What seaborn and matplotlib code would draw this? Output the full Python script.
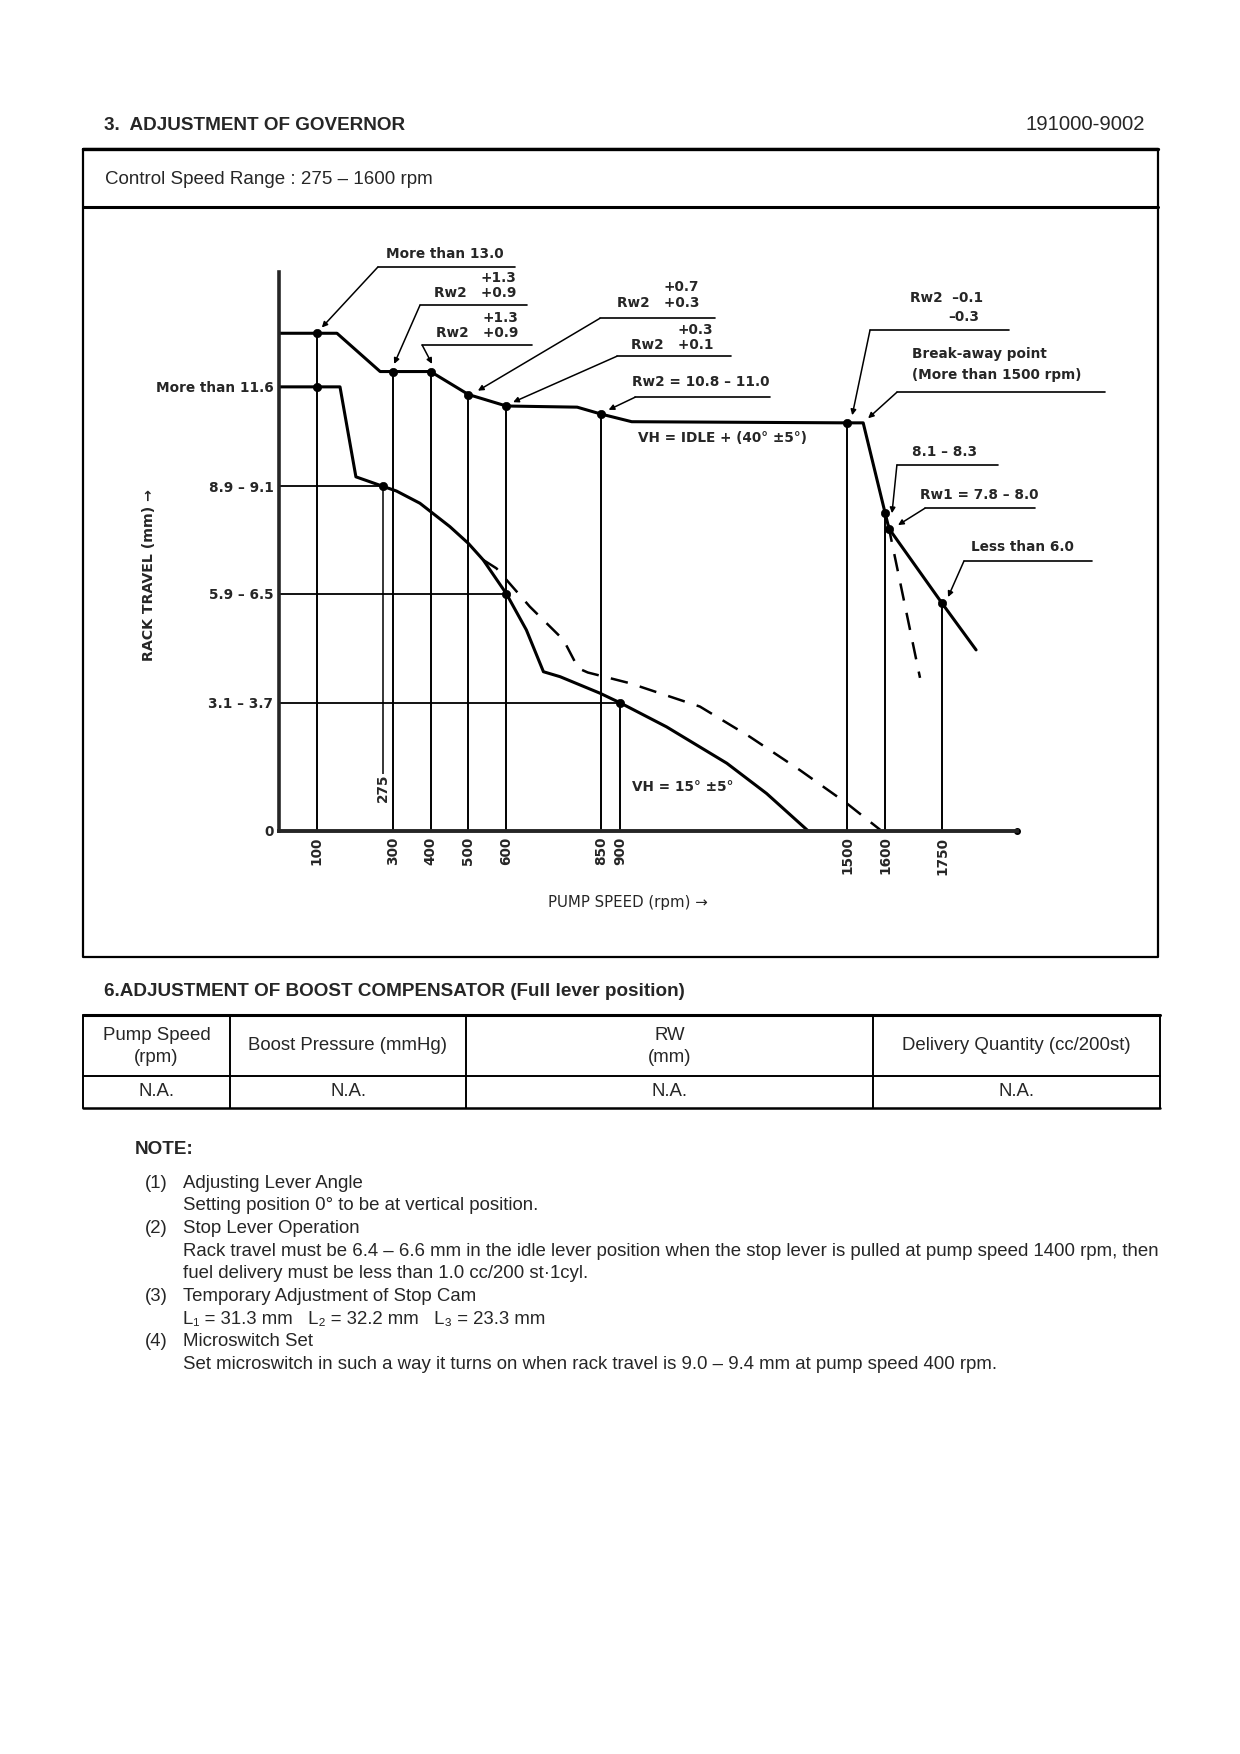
import matplotlib
matplotlib.use("Agg")
import matplotlib.pyplot as plt
import seaborn as sns

# ---- governor curve data (pump speed rpm, rack travel mm) ----
full_rpm = [0, 100, 153, 267, 300, 400, 500, 600, 787, 850, 931, 1500, 1542, 1600, 1610, 1750, 1840]
full_rack = [13.0, 13.0, 13.0, 12.0, 12.0, 12.0, 11.4, 11.1, 11.07, 10.89, 10.69, 10.66, 10.66, 8.3, 7.9, 5.95, 4.73]

idle_rpm = [0, 100, 161, 203, 275, 310, 372, 451, 500, 539, 600, 653, 698, 742, 847, 900, 1023, 1182, 1287, 1397]
idle_rack = [11.6, 11.6, 11.6, 9.25, 9.0, 8.88, 8.56, 7.95, 7.51, 7.08, 6.2, 5.25, 4.16, 4.03, 3.6, 3.35, 2.72, 1.77, 0.98, 0.0]

dash_rpm = [539, 574, 662, 751, 790, 815, 926, 1111, 1243, 1375, 1499, 1587]
dash_rack = [7.08, 6.86, 5.86, 4.99, 4.25, 4.14, 3.86, 3.25, 2.46, 1.59, 0.72, 0.03]

stop_rpm = [1608, 1692]
stop_rack = [8.0, 4.0]

dot_rpm = [100, 300, 400, 500, 600, 850, 1500, 1600, 1610, 1750, 100, 275, 600, 900]
dot_rack = [13.0, 12.0, 12.0, 11.4, 11.1, 10.89, 10.66, 8.3, 7.9, 5.95, 11.6, 9.0, 6.2, 3.35]

guide_rpm = [100, 300, 400, 500, 600, 850, 900, 1500, 1600, 1750]
guide_top = [13.0, 12.0, 12.0, 11.4, 11.1, 10.89, 3.35, 10.66, 8.3, 5.95]

idle_start_rpm = [275]
idle_start_low = [1.5]
idle_start_high = [9.0]

level_rack = [9.0, 6.2, 3.35]
level_end = [275, 600, 900]

tick_rpm = [100, 300, 400, 500, 600, 850, 900, 1500, 1600, 1750]
tick_labels = ["100", "300", "400", "500", "600", "850", "900", "1500", "1600", "1750"]

ytick_rack = [11.6, 9.0, 6.2, 3.35, 0.0]
ytick_labels = ["More than 11.6", "8.9 – 9.1", "5.9 – 6.5", "3.1 – 3.7", "0"]

# ---- table / notes text ----
table_header = [["Pump Speed", "(rpm)"], ["Boost Pressure (mmHg)"], ["RW", "(mm)"], ["Delivery Quantity (cc/200st)"]]
table_row = ["N.A.", "N.A.", "N.A.", "N.A."]

notes = [
    ("(1)", ["Adjusting Lever Angle", "Setting position 0° to be at vertical position."]),
    ("(2)", ["Stop Lever Operation",
             "Rack travel must be 6.4 – 6.6 mm in the idle lever position when the stop lever is pulled at pump speed 1400 rpm, then",
             "fuel delivery must be less than 1.0 cc/200 st·1cyl."]),
    ("(3)", ["Temporary Adjustment of Stop Cam", "L₁ = 31.3 mm   L₂ = 32.2 mm   L₃ = 23.3 mm"]),
    ("(4)", ["Microswitch Set", "Set microswitch in such a way it turns on when rack travel is 9.0 – 9.4 mm at pump speed 400 rpm."]),
]

sns.set_style("white")
plt.rcParams["font.family"] = ["Liberation Sans", "DejaVu Sans"]

W, H = 1240, 1754
FS = 13.4
fig = plt.figure(figsize=(W / 100, H / 100), dpi=100)

# page layer in pixel coordinates
page = fig.add_axes([0, 0, 1, 1])
page.set_xlim(0, W)
page.set_ylim(H, 0)
page.axis("off")

page.text(104, 125, "3.  ADJUSTMENT OF GOVERNOR", fontsize=13.6, fontweight="bold", va="center")
page.text(1145, 125, "191000-9002", fontsize=14.6, ha="right", va="center")

# chart box
page.plot([83, 1158, 1158, 83, 83], [149, 149, 957, 957, 149], color="k", lw=1.6)
page.plot([83, 1158], [149, 149], color="k", lw=2.4)
page.plot([83, 1158], [207, 207], color="k", lw=2.2)
page.text(105, 179, "Control Speed Range : 275 – 1600 rpm", fontsize=13.5, va="center")

# ---- chart axes ----
ax = fig.add_axes([279 / W, 1 - 831 / H, (1017 - 279) / W, (831 - 272) / H])
ax.patch.set_alpha(0)
ax.set_xlim(0, 1948)
ax.set_ylim(0, 14.6)

cfont = dict(family="DejaVu Sans", fontweight="bold", fontsize=9.8)

ax.vlines(guide_rpm, 0, guide_top, color="k", lw=1.4)
ax.vlines(idle_start_rpm, idle_start_low, idle_start_high, color="k", lw=1.1)
ax.hlines(level_rack, 0, level_end, color="k", lw=1.3)

sns.lineplot(x=full_rpm, y=full_rack, sort=False, estimator=None, color="k", lw=2.2, ax=ax)
sns.lineplot(x=idle_rpm, y=idle_rack, sort=False, estimator=None, color="k", lw=2.2, ax=ax)
sns.lineplot(x=dash_rpm, y=dash_rack, sort=False, estimator=None, color="k", lw=1.8,
             linestyle=(0, (7, 5)), ax=ax)
sns.lineplot(x=stop_rpm, y=stop_rack, sort=False, estimator=None, color="k", lw=1.8,
             linestyle=(0, (7, 5)), ax=ax)
sns.scatterplot(x=dot_rpm, y=dot_rack, color="k", s=36, edgecolor="k", zorder=5, ax=ax)

for side in ["top", "right"]:
    ax.spines[side].set_visible(False)
ax.spines["left"].set_linewidth(2.6)
ax.spines["bottom"].set_linewidth(2.8)
ax.plot(1, 0, marker="o", ms=4, color="k", transform=ax.transAxes, clip_on=False)

ax.set_xticks(tick_rpm)
ax.set_xticklabels(tick_labels, rotation=90, **cfont)
ax.set_yticks(ytick_rack)
ax.set_yticklabels(ytick_labels, **cfont)
ax.tick_params(axis="x", length=0, pad=4)
ax.tick_params(axis="y", length=0, pad=4)
ax.set_xlabel("")
ax.set_ylabel("")

page.text(149, 575, "RACK TRAVEL (mm) →", rotation=90, ha="center", va="center",
          family="DejaVu Sans", fontweight="bold", fontsize=10.2)
page.text(628, 903, "PUMP SPEED (rpm) →", ha="center", va="center",
          family="DejaVu Sans", fontsize=10.8)

# annotation texts (rpm, mm, ha)
labels = [
    ("More than 13.0", 438, 15.07, "center"),
    ("+1.3", 626, 14.44, "right"),
    ("Rw2   +0.9", 626, 14.05, "right"),
    ("+1.3", 631, 13.39, "right"),
    ("Rw2   +0.9", 631, 13.0, "right"),
    ("+0.7", 1109, 14.2, "right"),
    ("Rw2   +0.3", 1109, 13.79, "right"),
    ("+0.3", 1146, 13.08, "right"),
    ("Rw2   +0.1", 1146, 12.69, "right"),
    ("Rw2 = 10.8 – 11.0", 932, 11.72, "left"),
    ("VH = IDLE + (40° ±5°)", 948, 10.26, "left"),
    ("Rw2  –0.1", 1666, 13.92, "left"),
    ("–0.3", 1766, 13.42, "left"),
    ("Break-away point", 1671, 12.45, "left"),
    ("(More than 1500 rpm)", 1671, 11.9, "left"),
    ("8.1 – 8.3", 1671, 9.9, "left"),
    ("Rw1 = 7.8 – 8.0", 1692, 8.77, "left"),
    ("Less than 6.0", 1827, 7.42, "left"),
    ("VH = 15° ±5°", 932, 1.15, "left"),
]
for txt, x, y, ha in labels:
    ax.text(x, y, txt, ha=ha, va="center", clip_on=False, **cfont)
ax.text(275, 1.12, "275", rotation=90, ha="center", va="center", **cfont)

# leader lines: underline start, underline end, height, arrow tip
leaders = [
    (261, 623, 14.73, (113, 13.15)),
    (372, 655, 13.73, (304, 12.2)),
    (378, 668, 12.69, (404, 12.2)),
    (847, 1151, 13.39, (525, 11.5)),
    (892, 1193, 12.4, (618, 11.2)),
    (940, 1296, 11.33, (870, 11.0)),
    (1560, 1927, 13.08, (1513, 10.86)),
    (1631, 2181, 11.46, (1555, 10.78)),
    (1631, 1898, 9.56, (1618, 8.3)),
    (1705, 1996, 8.43, (1634, 7.99)),
    (1808, 2146, 7.05, (1766, 6.11)),
]
for x0, x1, yl, tip in leaders:
    ax.plot([x0, x1], [yl, yl], color="k", lw=1.2, clip_on=False)
    ax.annotate("", xy=tip, xytext=(x0, yl), annotation_clip=False,
                arrowprops=dict(arrowstyle="-|>", color="k", lw=1.1, shrinkA=0, shrinkB=0,
                                mutation_scale=8))

# ---- boost compensator table ----
page.text(104, 991, "6.ADJUSTMENT OF BOOST COMPENSATOR (Full lever position)", fontsize=13.6,
          fontweight="bold", va="center")
tx = [83, 230, 466, 873, 1160]
page.plot([tx[0], tx[-1]], [1015, 1015], color="k", lw=2.2)
page.plot([tx[0], tx[-1]], [1075.5, 1075.5], color="k", lw=1.4)
page.plot([tx[0], tx[-1]], [1108, 1108], color="k", lw=1.8)
for x in tx:
    page.plot([x, x], [1015, 1108], color="k", lw=1.4)
for i, cell in enumerate(table_header):
    cx = (tx[i] + tx[i + 1]) / 2
    if len(cell) == 2:
        page.text(cx, 1035, cell[0], fontsize=FS, ha="center", va="center")
        page.text(cx, 1057, cell[1], fontsize=FS, ha="center", va="center")
    else:
        page.text(cx, 1046, cell[0], fontsize=FS, ha="center", va="center")
    page.text(cx, 1091, table_row[i], fontsize=FS, ha="center", va="center")

# ---- notes ----
page.text(135, 1150, "NOTE:", fontsize=13.6, fontweight="bold", va="center")
y = 1183
for num, lines in notes:
    page.text(145, y, num, fontsize=FS, va="center")
    for line in lines:
        page.text(183, y, line, fontsize=FS, va="center")
        y += 22.7

fig.savefig("out.png", dpi=100)
